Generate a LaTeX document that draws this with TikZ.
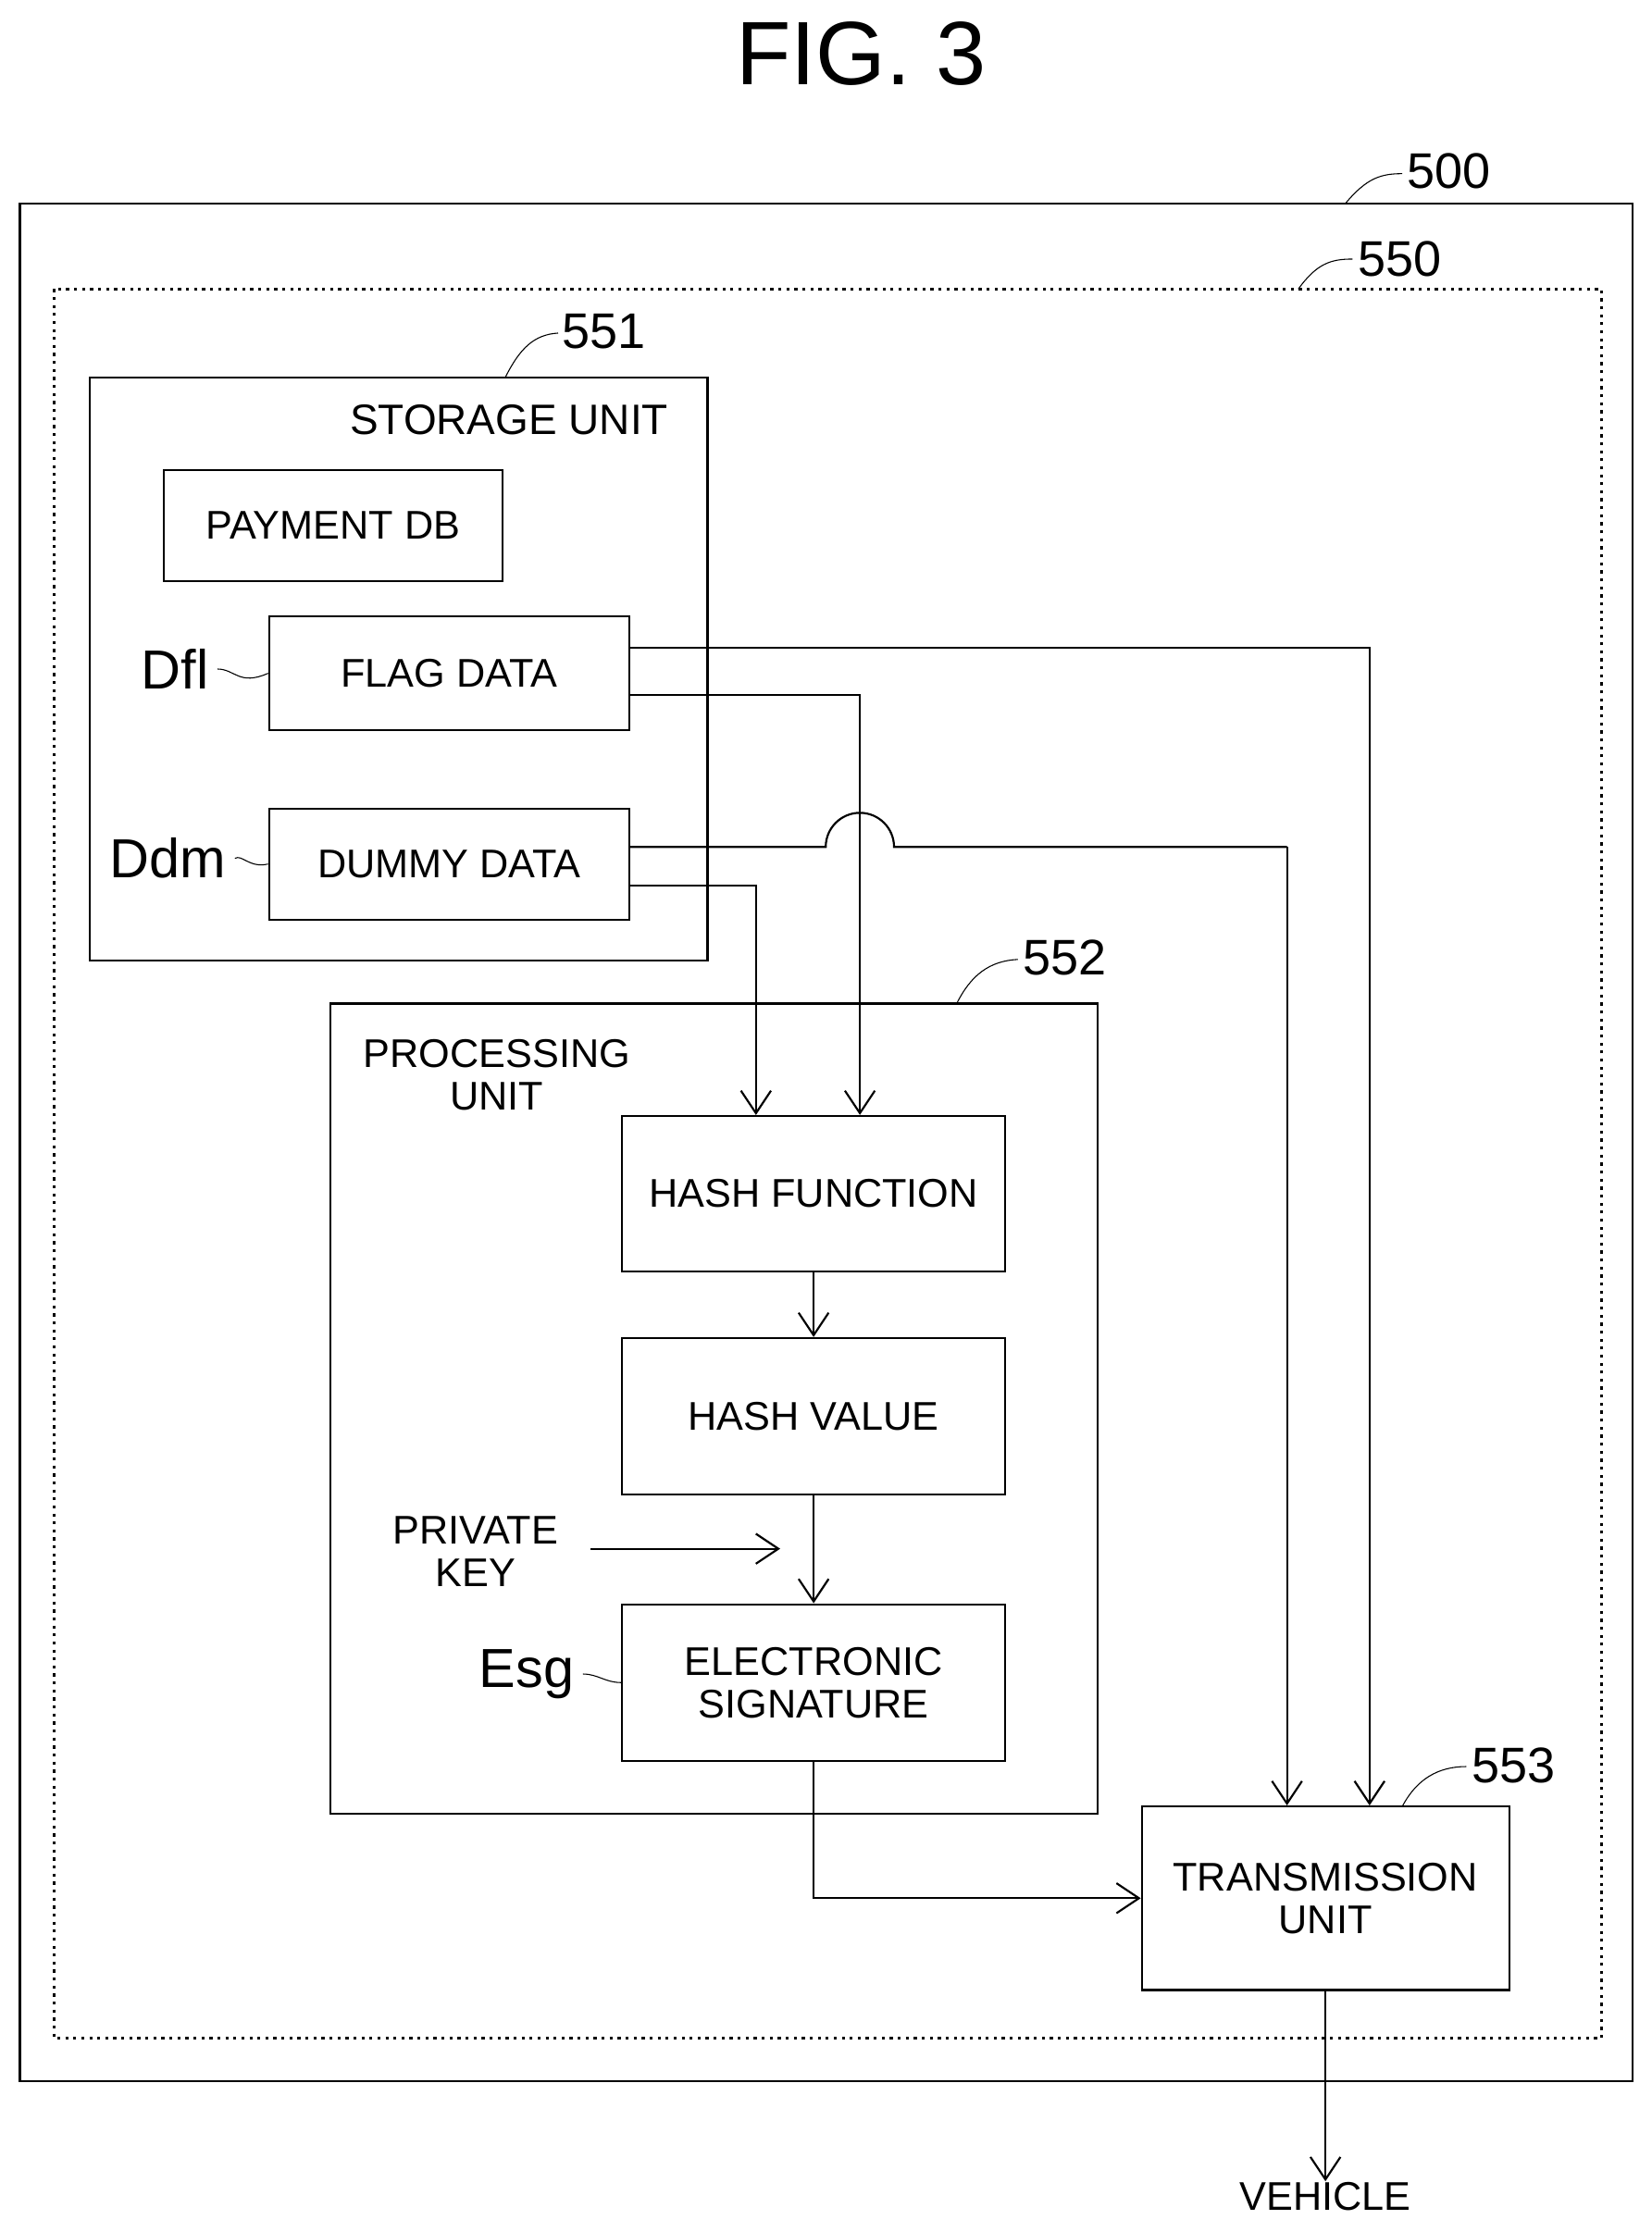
\documentclass[tikz,border=0pt]{standalone}
\usepackage{fontspec}
\setmainfont{Liberation Sans}
\usetikzlibrary{arrows.meta,positioning}

\tikzset{
  box/.style={draw, thick, align=center, inner sep=0pt, font=\fontsize{16}{17}\selectfont},
  lbl/.style={font=\fontsize{20}{22}\selectfont},
  conn/.style={thick, -{Straight Barb[length=9pt,width=12pt]}},
  lead/.style={thin}
}

\begin{document}
\begin{tikzpicture}[x=0.02cm,y=-0.02cm]

        \useasboundingbox (0,0) rectangle (1160,1568);
        \node[font=\fontsize{36}{40}\selectfont] (title) at (605,38) {FIG. 3};

        % frames
        \draw[thick] (14,143) rectangle (1147,1462);
        \draw[very thick, dotted] (38,203) rectangle (1125,1432);
        \draw[thick] (63,265) rectangle (497,675);
        \draw[thick] (232,705) rectangle (771,1274);

        \node[lbl] (l500) at (1018,120) {500};
        \draw[lead] (945,143) .. controls (960,125) and (970,122) .. (985,122);
        \node[lbl] (l550) at (983,182) {550};
        \draw[lead] (912,203) .. controls (925,185) and (935,182) .. (950,182);
        \node[lbl] (l551) at (424,233) {551};
        \draw[lead] (355,265) .. controls (365,245) and (375,235) .. (392,234);
        \node[lbl] (l552) at (748,673) {552};
        \draw[lead] (672,705) .. controls (682,685) and (695,675) .. (715,674);
        \node[lbl] (l553) at (1063,1240) {553};
        \draw[lead] (985,1269) .. controls (995,1250) and (1010,1241) .. (1030,1241);

        \node[box, draw=none, font=\fontsize{17}{18}\selectfont, anchor=east] (su) at (470,295) {STORAGE UNIT};
        \node[box, draw=none] (pu) at (349,755) {PROCESSING\\UNIT};

        % storage
        \node[box, minimum width=238*0.02cm, minimum height=78*0.02cm] (pdb) at (234,369) {PAYMENT DB};
        \node[box, minimum width=253*0.02cm, minimum height=80*0.02cm] (fd) at (315.5,473) {FLAG DATA};
        \node[box, minimum width=253*0.02cm, minimum height=78*0.02cm] (dd) at (315.5,607) {DUMMY DATA};
        \node[lbl, font=\fontsize{22}{24}\selectfont] (dfl) at (123,470) {Dfl};
        \node[lbl, font=\fontsize{22}{24}\selectfont] (ddm) at (118,603) {Ddm};
        \draw[lead] (dfl.east) .. controls (165,470) and (168,482) .. (fd.west);
        \draw[lead] (ddm.east) .. controls (170,600) and (175,610) .. (dd.west);

        % processing
        \node[box, minimum width=269*0.02cm, minimum height=109*0.02cm] (hf) at (571.5,838.5) {HASH FUNCTION};
        \node[box, minimum width=269*0.02cm, minimum height=110*0.02cm] (hv) at (571.5,995) {HASH VALUE};
        \node[box, minimum width=269*0.02cm, minimum height=110*0.02cm] (es) at (571.5,1182) {ELECTRONIC\\SIGNATURE};
        \node[lbl, font=\fontsize{22}{24}\selectfont] (esg) at (370,1176) {Esg};
        \draw[lead] (esg.east) .. controls (420,1176) and (425,1182) .. (es.west);
        \node[box, draw=none] (pk) at (334,1090) {PRIVATE\\KEY};
        \coordinate (pkend) at (548,1088);
        \draw[conn] (415,1088) -- (pkend);

        % transmission
        \node[box, minimum width=258*0.02cm, minimum height=129*0.02cm] (tu) at (931,1333.5) {TRANSMISSION\\UNIT};
        \node[box, draw=none] (veh) at (931,1543) {VEHICLE};

        \coordinate (xa) at (962,0);
        \coordinate (xb) at (604,0);
        \coordinate (xc) at (904,0);
        \coordinate (xd) at (531,0);

        \draw[conn] ([yshift=0.36cm]fd.east) -| (xa |- tu.north);
        \draw[conn] ([yshift=-0.3cm]fd.east) -| (xb |- hf.north);
        \draw[thick] ([yshift=0.24cm]dd.east) -- (580,595)
            arc[start angle=180, end angle=0, radius=0.48cm] -- (904,595);
        \draw[conn] (904,595) -- (xc |- tu.north);
        \draw[conn] ([yshift=-0.3cm]dd.east) -| (xd |- hf.north);
        \draw[conn] (hf.south) -- (hv.north);
        \draw[conn] (hv.south) -- (es.north);
        \draw[conn] (es.south) |- (tu.west);
        \draw[conn] (tu.south) -- (tu.south |- veh.north);

    \end{tikzpicture}
\end{document}
